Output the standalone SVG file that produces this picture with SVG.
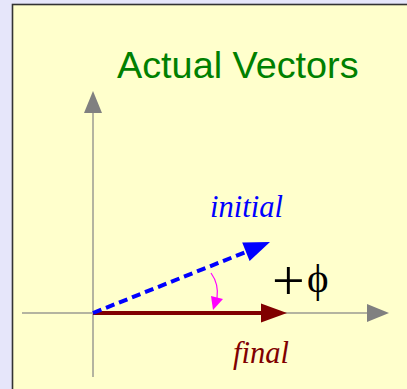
<svg xmlns="http://www.w3.org/2000/svg" width="407" height="389" viewBox="0 0 407 389">
<style>
.axis{stroke:#b4b4a0;stroke-width:2;fill:none}
.axhead{fill:#808080}
.lbl{font-family:"Liberation Serif","Times New Roman",serif;font-style:italic;font-size:30.5px}
</style>
<rect x="0" y="0" width="407" height="389" fill="#e6e6fa"/>
<rect x="12.5" y="4.5" width="420" height="400" fill="#ffffcc" stroke="#333333" stroke-width="1.6"/>
<g id="title"><text x="117" y="78" font-family="Liberation Sans, Arial, sans-serif" font-size="37.8" fill="#008000">Actual Vectors</text></g>
<g id="connectors">
<g id="y-axis"><line class="axis" x1="93" y1="377" x2="93" y2="112"/><polygon class="axhead" points="93,91 84,113 102,113"/></g>
<g id="x-axis"><line class="axis" x1="22" y1="313" x2="368" y2="313"/><polygon class="axhead" points="389,313 367,304 367,322"/></g>
<g id="final-vector"><line x1="93" y1="313" x2="263" y2="313" stroke="#800000" stroke-width="4"/><polygon points="287,313 261,303.5 261,322.5" fill="#800000"/></g>
<g id="initial-vector"><line x1="93" y1="313" x2="247" y2="251.5" stroke="#0000ff" stroke-width="4" stroke-dasharray="9,5"/><polygon points="270,242 249.6,261 242.2,242.4" fill="#0000ff"/></g>
<g id="angle-arc"><path d="M211,273 Q219,284 217,298" stroke="#ff00ff" stroke-width="1.2" fill="none"/><polygon points="213,310 211,296 223,299" fill="#ff00ff"/></g>
</g>
<g id="label-initial"><text class="lbl" x="210" y="217" fill="#0000ff">initial</text></g>
<g id="label-final"><text class="lbl" x="233" y="363" fill="#800000">final</text></g>
<g id="label-phi"><text font-family="Liberation Serif, 'Times New Roman', serif" fill="#000000"><tspan x="272" y="300" font-size="58">+</tspan><tspan x="307" y="292" font-size="41">ϕ</tspan></text></g>
</svg>
